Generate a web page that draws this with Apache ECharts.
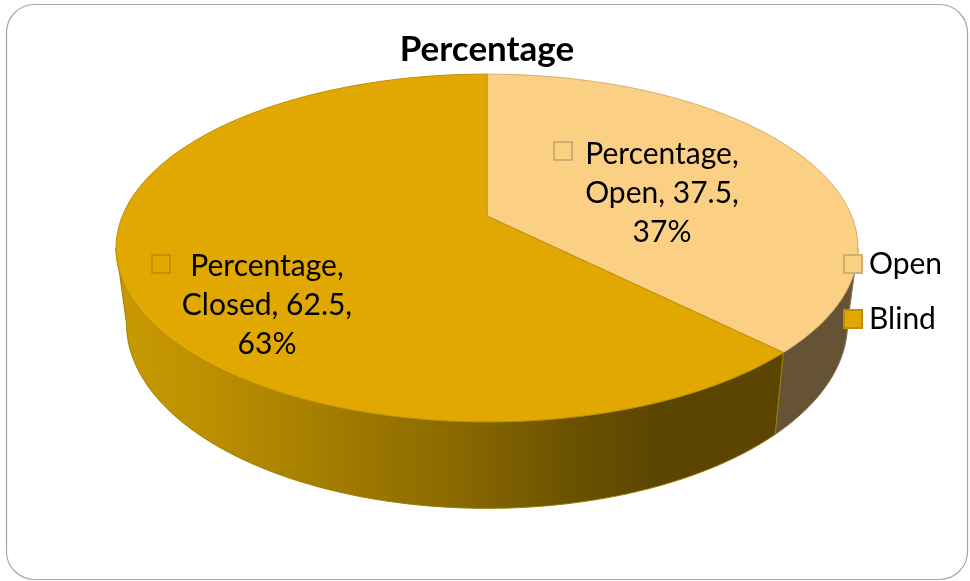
<!DOCTYPE html>
<html><head><meta charset="utf-8">
<style>html,body{margin:0;padding:0;background:#fff}#c{width:970px;height:581px}</style>
<script src="https://cdn.jsdelivr.net/npm/echarts@6/dist/echarts.min.js"></script>
</head><body><div id="c"></div>
<script>
const chartTitle = 'Percentage';
const legendNames = ['Open', 'Blind'];
const labelNames = ['Open', 'Closed'];
const values = [37.5, 62.5];
const percents = [37, 63];

const FONT = 'Lato';
const TOP_COLORS = ['#FBCF84', '#E0A800'];
const TOP_STROKES = ['#D2AE72', '#BD8E00'];
// Perspective projection of the pie disc (top face and bottom face)
const K = 0.184, CX = 487;
const TOP = {a: 364.6, b: 168, cy: 216};
const BOT = {a: 354.4, b: 179, cy: 289};
const LABELS = [
  {x: 662, y: 193, kx: 554, ky: 142},
  {x: 267, y: 305, kx: 152, ky: 255}
];
function proj(f, deg) {
  const t = deg * Math.PI / 180, X = Math.sin(t), Y = Math.cos(t), w = 1 + K * Y;
  return [CX + f.a * X / w, f.cy - f.b * Y / w];
}
function arc(f, d0, d1) {
  const pts = [], n = Math.max(2, Math.ceil(Math.abs(d1 - d0)));
  for (let i = 0; i <= n; i++) pts.push(proj(f, d0 + (d1 - d0) * i / n));
  return pts;
}
const total = values.reduce((a, b) => a + b, 0);
function range(i) {
  let s = 0;
  for (let j = 0; j < i; j++) s += values[j];
  return [s / total * 360, (s + values[i]) / total * 360];
}
const LEFT_SIL = 360 - Math.acos(-K) * 180 / Math.PI;
const RIGHT_SIL = Math.acos(-K) * 180 / Math.PI;

function sideFill(i) {
  if (i === 0) return '#665234';
  return new echarts.graphic.LinearGradient(116, 0, 775, 0, [
    {offset: 0, color: '#C89A00'},
    {offset: 0.12, color: '#BE9100'},
    {offset: 0.3, color: '#A67F00'},
    {offset: 0.5, color: '#8C6B00'},
    {offset: 0.7, color: '#6A5100'},
    {offset: 0.82, color: '#5B4500'},
    {offset: 1, color: '#5B4500'}
  ], true);
}
function renderSlice(i) {
  return function () {
    const [d0, d1] = range(i);
    // visible wall only: stop at the silhouette
    const s0 = i === 0 ? RIGHT_SIL : d0;
    const s1 = i === 0 ? d1 : LEFT_SIL;
    const wall = arc(TOP, s0, s1).concat(arc(BOT, s1, s0));
    const face = [[CX, TOP.cy]].concat(arc(TOP, d0, d1));
    const L = LABELS[i];
    const children = [
      {type: 'polygon', shape: {points: wall}, style: {fill: sideFill(i), stroke: i === 0 ? '#8A7350' : '#A07E00', lineWidth: 1}},
      {type: 'polygon', shape: {points: face}, style: {fill: TOP_COLORS[i], stroke: TOP_STROKES[i], lineWidth: 1}},
      {type: 'rect', shape: {x: L.kx, y: L.ky, width: 18, height: 18}, style: {fill: TOP_COLORS[i], stroke: i === 0 ? '#BFA06E' : '#B48800', lineWidth: 1.5}},
      {type: 'text', style: {
        x: L.x, y: L.y, align: 'center', verticalAlign: 'middle',
        text: chartTitle + ',\n' + labelNames[i] + ', ' + values[i] + ',\n' + percents[i] + '%',
        font: '30px ' + FONT, lineHeight: 39, fill: '#000'
      }}
    ];
    return {type: 'group', children};
  };
}
const chart = echarts.init(document.getElementById('c'), null, {renderer: 'canvas'});
chart.setOption({
  animation: false,
  backgroundColor: '#fff',
  title: {text: chartTitle, left: 482, top: 27, textAlign: 'center',
    textStyle: {fontFamily: FONT, fontSize: 35, fontWeight: 'bold', color: '#000'}},
  legend: {
    data: legendNames, orient: 'vertical', left: 838, top: 244, itemWidth: 18, itemHeight: 18, itemGap: 25,
    icon: 'rect', selectedMode: false,
    textStyle: {fontFamily: FONT, fontSize: 30, color: '#000', padding: [0, 0, 0, 2]}
  },
  graphic: [{type: 'rect', z: -10, shape: {x: 6.5, y: 4.5, width: 961, height: 575, r: 28},
    style: {fill: '#fff', stroke: '#A6A6A6', lineWidth: 1.2}}],
  series: legendNames.map((name, i) => ({
    type: 'custom', name, coordinateSystem: 'none', z: 2 + i,
    data: [{name, value: values[i]}],
    itemStyle: {color: TOP_COLORS[i], borderColor: TOP_STROKES[i], borderWidth: 1.5},
    renderItem: renderSlice(i),
    silent: true
  }))
});
</script></body></html>
